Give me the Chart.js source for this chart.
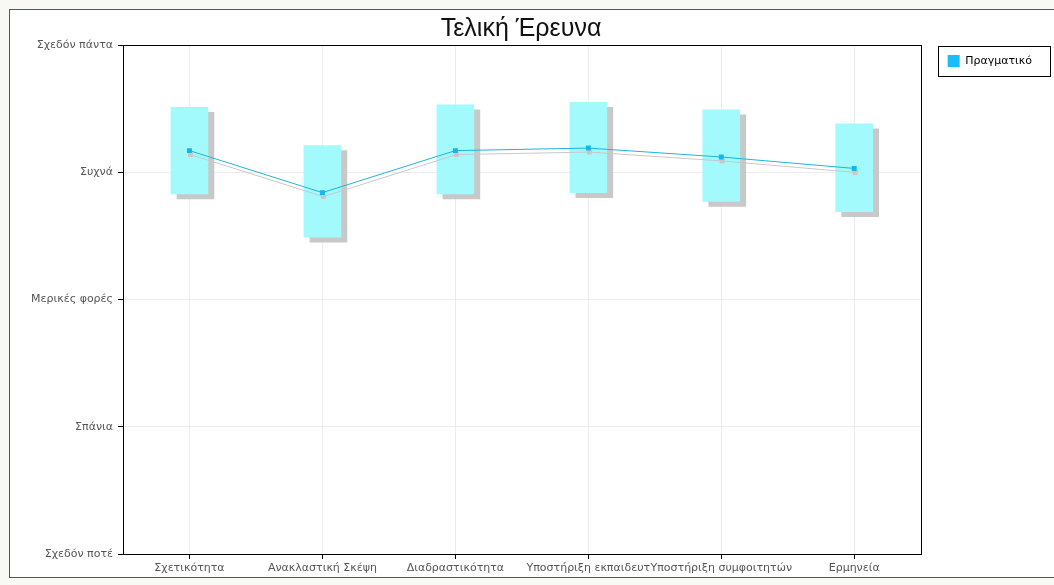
<!DOCTYPE html>
<html>
<head>
<meta charset="utf-8">
<script src="https://cdn.jsdelivr.net/npm/chart.js@4"></script>
<style>
  body { margin: 0; background: #f8f8f4; }
  #frame { position: absolute; left: 9px; top: 9px; width: 1060px; height: 567px; background: #fff; border: 1px solid #4848c0; }
  #wrap { position: absolute; left: 0; top: 0; width: 1054px; height: 585px; }
</style>
</head>
<body>
<div id="frame"></div>
<div id="wrap"><canvas id="chart"></canvas></div>
<script>
// categories and values (1 = Σχεδόν ποτέ ... 5 = Σχεδόν πάντα)
const categories = ['Σχετικότητα', 'Ανακλαστική Σκέψη', 'Διαδραστικότητα', 'Υποστήριξη εκπαιδευτ', 'Υποστήριξη συμφοιτητών', 'Ερμηνεία'];
const actual = [4.17, 3.84, 4.17, 4.19, 4.12, 4.03];
const rangeLow = [3.83, 3.49, 3.83, 3.84, 3.77, 3.69];
const rangeHigh = [4.51, 4.21, 4.53, 4.55, 4.49, 4.38];
const yLabels = ['', 'Σχεδόν ποτέ', 'Σπάνια', 'Μερικές φορές', 'Συχνά', 'Σχεδόν πάντα'];

// gray drop shadow under bars and line
const shadowPlugin = {
  id: 'shadow',
  beforeDatasetDraw(chart, args) {
    const ctx = chart.ctx;
    ctx.save();
    ctx.shadowColor = '#c8c8c8';
    ctx.shadowBlur = 0;
    ctx.shadowOffsetX = args.index === 1 ? 6 : 1;
    ctx.shadowOffsetY = args.index === 1 ? 5 : 4;
  },
  afterDatasetDraw(chart) {
    chart.ctx.restore();
  }
};

// box around plot area and legend
const boxPlugin = {
  id: 'boxes',
  afterDraw(chart) {
    const ctx = chart.ctx;
    const a = chart.chartArea;
    ctx.save();
    ctx.strokeStyle = '#000';
    ctx.lineWidth = 1;
    ctx.strokeRect(Math.round(a.left) + 0.5, Math.round(a.top) + 0.5, Math.round(a.right - a.left), Math.round(a.bottom - a.top));
    const hb = chart.legend.legendHitBoxes[0];
    if (hb) {
      ctx.strokeRect(Math.round(hb.left) - 9.5, Math.round(hb.top) - 8.5, Math.round(hb.width) + 28, 30);
    }
    ctx.restore();
  }
};

const ctx = document.getElementById('chart').getContext('2d');
new Chart(ctx, {
  type: 'bar',
  data: {
    labels: categories,
    datasets: [{
      type: 'line',
      label: 'Πραγματικό',
      data: actual,
      borderColor: '#20b4dc',
      backgroundColor: '#18bef8',
      borderWidth: 1,
      pointStyle: 'rect',
      pointRadius: 3.5,
      pointBackgroundColor: '#18b4ec',
      pointBorderWidth: 0,
      tension: 0,
      order: 0
    }, {
      label: 'range',
      data: rangeLow.map((v, i) => [v, rangeHigh[i]]),
      backgroundColor: '#a2fafc',
      borderWidth: 0,
      barThickness: 37,
      order: 1
    }]
  },
  options: {
    responsive: true,
    maintainAspectRatio: false,
    animation: false,
    layout: { padding: { left: 0, right: 12, top: 0, bottom: 0 } },
    plugins: {
      title: {
        display: true,
        text: 'Τελική Έρευνα',
        color: '#111',
        font: { family: 'Liberation Sans', size: 25, weight: 'normal' },
        padding: { top: 14, bottom: 1 }
      },
      legend: {
        position: 'right',
        align: 'start',
        fullSize: false,
        labels: {
          boxWidth: 12,
          boxHeight: 12,
          color: '#222',
          font: { family: 'DejaVu Sans', size: 11 },
          padding: 10,
          generateLabels: chart => [{
            text: 'Πραγματικό', fillStyle: '#18bef8', strokeStyle: '#18bef8', lineWidth: 0, datasetIndex: 0
          }]
        }
      },
      tooltip: { enabled: false }
    },
    scales: {
      x: {
        offset: true,
        grid: { offset: false, color: '#ececec', tickColor: '#000', tickLength: 5, drawTicks: true },
        border: { color: '#000' },
        ticks: { color: '#555', font: { family: 'DejaVu Sans', size: 11 }, maxRotation: 0, autoSkip: false, padding: 3 },
        afterFit: s => { s.height = 31; }
      },
      y: {
        min: 1,
        max: 5,
        grid: { color: '#ececec', tickColor: '#000', tickLength: 5 },
        border: { color: '#000' },
        ticks: {
          stepSize: 1,
          color: '#555',
          font: { family: 'DejaVu Sans', size: 11 },
          padding: 5,
          callback: v => yLabels[v]
        },
        afterFit: s => { s.width = 123; }
      },
      // empty right axis: only keeps the gap between plot and legend
      gap: {
        position: 'right',
        grid: { display: false },
        border: { display: false },
        ticks: { display: false },
        afterFit: s => { s.width = 17; }
      }
    }
  },
  plugins: [shadowPlugin, boxPlugin]
});
</script>
</body>
</html>
